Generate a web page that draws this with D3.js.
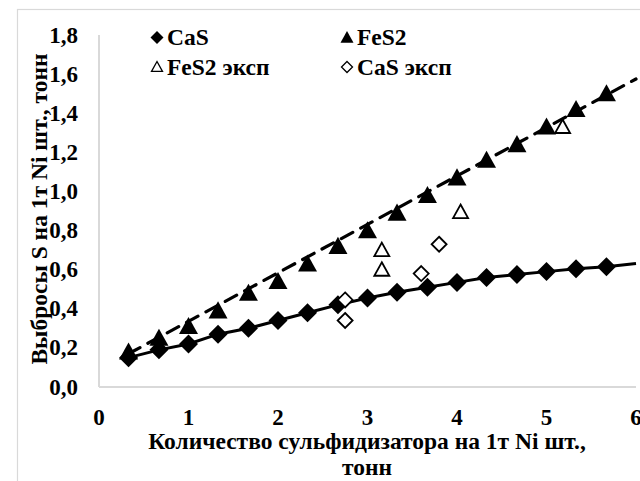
<!DOCTYPE html>
<html>
<head>
<meta charset="utf-8">
<script src="https://cdn.jsdelivr.net/npm/d3@7"></script>
<style>
  body { margin: 0; background: #fff; }
</style>
</head>
<body>
<div id="chart"></div>
<script>
// calculated series
const xCalc = [0.33, 0.67, 1, 1.33, 1.67, 2, 2.33, 2.67, 3, 3.33, 3.67, 4, 4.33, 4.67, 5, 5.33, 5.67]
const casCalc = [0.15, 0.19, 0.22, 0.27, 0.30, 0.34, 0.38, 0.42, 0.455, 0.485, 0.51, 0.535, 0.56, 0.575, 0.59, 0.605, 0.615]
const fesCalc = [0.18, 0.25, 0.31, 0.39, 0.48, 0.54, 0.63, 0.72, 0.80, 0.89, 0.98, 1.07, 1.16, 1.24, 1.33, 1.42, 1.50]

// experimental points
const fesExpX = [3.16, 3.16, 4.04, 5.18]
const fesExpY = [0.70, 0.60, 0.895, 1.33]
const casExpX = [2.75, 2.75, 3.60, 3.80]
const casExpY = [0.445, 0.34, 0.58, 0.73]

// trend line ends
const casTrendEnd = [6, 0.632]
const fesTrend = [[0.33, 0.17], [6, 1.575]]

const xTicks = [0, 1, 2, 3, 4, 5, 6]
const yTicks = [0, 0.2, 0.4, 0.6, 0.8, 1.0, 1.2, 1.4, 1.6, 1.8]

const width = 640, height = 481
const fontFam = '"Liberation Serif", "Times New Roman", serif'

let svg = d3.select('#chart').append('svg')
    .attr('width', width)
    .attr('height', height)
    .attr('font-family', fontFam)
    .attr('font-weight', 'bold')

// outer chart border
svg.append('rect')
    .attr('x', 17.5).attr('y', 9.5)
    .attr('width', 700).attr('height', 600)
    .attr('fill', 'none')
    .attr('stroke', '#d9d9d9')
    .attr('stroke-width', 1.2)

let x = d3.scaleLinear().domain([0, 6]).range([99, 636])
let y = d3.scaleLinear().domain([0, 1.8]).range([387, 35])

// axis lines
svg.append('line')
    .attr('x1', x(0)).attr('x2', x(0))
    .attr('y1', y(1.8)).attr('y2', y(0))
    .attr('stroke', '#d9d9d9').attr('stroke-width', 2)
svg.append('line')
    .attr('x1', x(0)).attr('x2', x(6))
    .attr('y1', y(0)).attr('y2', y(0))
    .attr('stroke', '#d9d9d9').attr('stroke-width', 2)

svg.selectAll('.ytick')
    .data(yTicks)
    .join('text')
    .attr('class', 'ytick')
    .attr('x', 78)
    .attr('y', d => y(d) + 7.5)
    .attr('text-anchor', 'end')
    .style('font-size', '23px')
    .text(d => d3.format('.1f')(d).replace('.', ','))

svg.selectAll('.xtick')
    .data(xTicks)
    .join('text')
    .attr('class', 'xtick')
    .attr('x', d => x(d))
    .attr('y', 425)
    .attr('text-anchor', 'middle')
    .style('font-size', '23px')
    .text(d => d)

// axis titles
svg.append('text')
    .attr('x', 367).attr('y', 449)
    .attr('text-anchor', 'middle')
    .style('font-size', '23.5px')
    .text('Количество сульфидизатора на 1т Ni шт.,')
svg.append('text')
    .attr('x', 367).attr('y', 475)
    .attr('text-anchor', 'middle')
    .style('font-size', '23.5px')
    .text('тонн')
svg.append('text')
    .attr('transform', 'translate(47,209) rotate(-90)')
    .attr('text-anchor', 'middle')
    .style('font-size', '23.5px')
    .text('Выбросы S на 1т Ni шт., тонн')

// marker paths
function diamond(r) {
    return `M0,${-r}L${r},0L0,${r}L${-r},0Z`
}
function triangle(r) {
    let h = r * 1.8
    return `M0,${-h * 0.55}L${r},${h * 0.45}L${-r},${h * 0.45}Z`
}

let line = d3.line().x(d => x(d[0])).y(d => y(d[1]))

// CaS trend (solid)
let casLine = xCalc.map((d, i) => [d, casCalc[i]])
casLine.push(casTrendEnd)
svg.append('path')
    .attr('d', line(casLine))
    .attr('fill', 'none')
    .attr('stroke', '#000')
    .attr('stroke-width', 3)

// FeS2 trend (dashed)
svg.append('path')
    .attr('d', line(fesTrend))
    .attr('fill', 'none')
    .attr('stroke', '#000')
    .attr('stroke-width', 3.2)
    .attr('stroke-dasharray', '13,9')
    .attr('stroke-linecap', 'round')

svg.selectAll('.fes')
    .data(xCalc)
    .join('path')
    .attr('class', 'fes')
    .attr('transform', (d, i) => `translate(${x(d)},${y(fesCalc[i])})`)
    .attr('d', triangle(9.5))
    .attr('fill', '#000')

svg.selectAll('.cas')
    .data(xCalc)
    .join('path')
    .attr('class', 'cas')
    .attr('transform', (d, i) => `translate(${x(d)},${y(casCalc[i])})`)
    .attr('d', diamond(9.5))
    .attr('fill', '#000')

svg.selectAll('.fesExp')
    .data(fesExpX)
    .join('path')
    .attr('class', 'fesExp')
    .attr('transform', (d, i) => `translate(${x(d)},${y(fesExpY[i])})`)
    .attr('d', triangle(7.5))
    .attr('fill', '#fff')
    .attr('stroke', '#000')
    .attr('stroke-width', 1.8)

svg.selectAll('.casExp')
    .data(casExpX)
    .join('path')
    .attr('class', 'casExp')
    .attr('transform', (d, i) => `translate(${x(d)},${y(casExpY[i])})`)
    .attr('d', diamond(7.5))
    .attr('fill', '#fff')
    .attr('stroke', '#000')
    .attr('stroke-width', 1.8)

// legend
let legend = [
    {name: 'CaS', x: 157, y: 37.5, shape: 'diamond', filled: true},
    {name: 'FeS2', x: 347, y: 37.5, shape: 'triangle', filled: true},
    {name: 'FeS2 эксп', x: 157, y: 67, shape: 'triangle', filled: false},
    {name: 'CaS эксп', x: 347, y: 67, shape: 'diamond', filled: false}
]
let lg = svg.selectAll('.lg')
    .data(legend)
    .join('g')
    .attr('class', 'lg')
    .attr('transform', d => `translate(${d.x},${d.y})`)
lg.append('path')
    .attr('d', d => d.shape == 'diamond' ? diamond(d.filled ? 6.5 : 5.5) : triangle(d.filled ? 6.5 : 5.5))
    .attr('fill', d => d.filled ? '#000' : '#fff')
    .attr('stroke', '#000')
    .attr('stroke-width', d => d.filled ? 0 : 1.3)
lg.append('text')
    .attr('x', 10)
    .attr('y', 7.5)
    .style('font-size', '23.5px')
    .text(d => d.name)
</script>
</body>
</html>
